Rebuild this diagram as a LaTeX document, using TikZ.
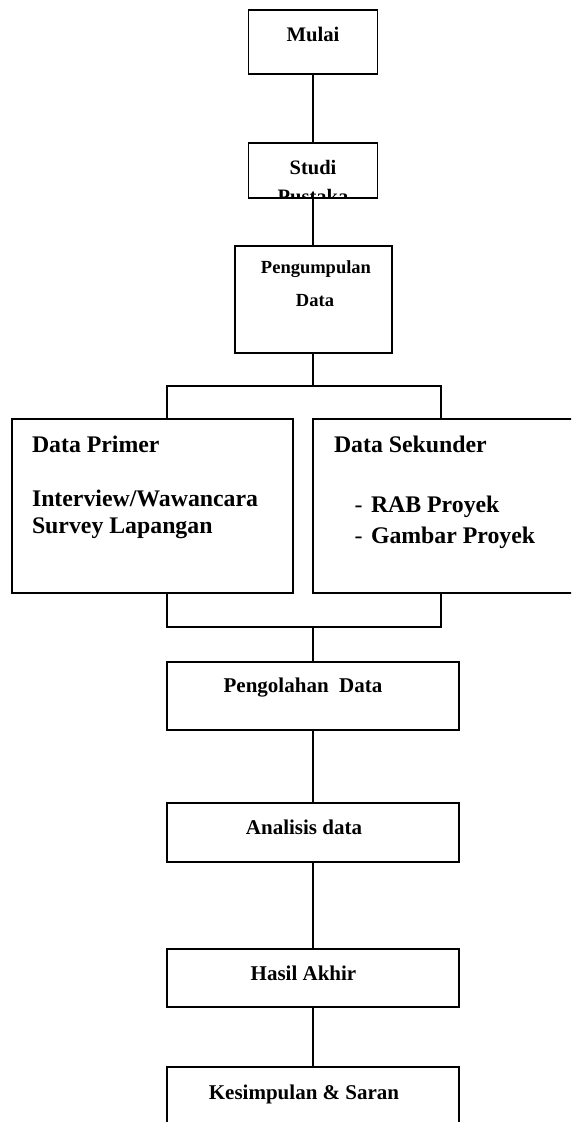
\documentclass[tikz,border=0pt]{standalone}
\usepackage{fontspec}
\setmainfont{Liberation Serif}
\begin{document}
\begin{tikzpicture}[x=1pt,y=-1pt,
  box/.style={draw, line width=1.5pt, inner sep=0pt, outer sep=0pt, anchor=north west},
  conn/.style={line width=1.5pt},
  txt/.style={inner sep=0pt, outer sep=0pt, font=\bfseries\fontsize{21}{25}\selectfont},
  txtbig/.style={inner sep=0pt, outer sep=0pt, font=\bfseries\fontsize{23.8}{28}\selectfont},
  txtsmall/.style={inner sep=0pt, outer sep=0pt, font=\bfseries\fontsize{18.5}{22}\selectfont}]
\clip (0,0) rectangle (571,1122);
\fill[white] (0,0) rectangle (571,1122);
% boxes
\node[box, minimum width=129pt, minimum height=64pt] (mulai) at (248.5,10) {};
\node[box, minimum width=129pt, minimum height=55pt] (studi) at (248.5,143) {};
\node[box, minimum width=157pt, minimum height=107pt] (kumpul) at (235,246) {};
\node[box, minimum width=281pt, minimum height=174pt] (primer) at (12,419) {};
\node[box, minimum width=290pt, minimum height=174pt] (sekunder) at (313,419) {};
\node[box, minimum width=292pt, minimum height=68pt] (olah) at (167,662) {};
\node[box, minimum width=292pt, minimum height=59pt] (analisis) at (167,803) {};
\node[box, minimum width=292pt, minimum height=58pt] (hasil) at (167,949) {};
\node[box, minimum width=292pt, minimum height=80pt] (simpul) at (167,1067) {};
% texts
\node[txt, anchor=base, font=\bfseries\fontsize{20.7}{25}\selectfont] (tmulai) at (313,41) {Mulai};
\node[txt, anchor=base, font=\bfseries\fontsize{20.5}{25}\selectfont] (tstudi) at (313,174) {Studi};
\begin{scope}
  \clip (studi.north west) rectangle (studi.south east);
  \node[txt, anchor=base, font=\bfseries\fontsize{20.5}{25}\selectfont] (tpustaka) at (313,203) {Pustaka};
\end{scope}
\node[txtsmall, anchor=base] (tkumpul) at (316,273) {Pengumpulan};
\node[txtsmall, anchor=base] (tkumpul2) at (315,306.5) {Data};
\node[txtbig, anchor=base west] (tprimer) at (32,452) {Data Primer};
\node[txtbig, anchor=base west] (tinter) at (32,506.5) {Interview/Wawancara};
\node[txtbig, anchor=base west] (tsurvey) at (32,533) {Survey Lapangan};
\node[txtbig, anchor=base west] (tsekunder) at (334,452) {Data Sekunder};
\node[inner sep=0pt, anchor=base west, font=\fontsize{23.8}{28}\selectfont] (dash1) at (354.5,512) {-};
\node[txtbig, anchor=base west] (trab) at (371,512) {RAB Proyek};
\node[inner sep=0pt, anchor=base west, font=\fontsize{23.8}{28}\selectfont] (dash2) at (354.5,543) {-};
\node[txtbig, anchor=base west] (tgambar) at (371,543) {Gambar Proyek};
\node[txt, anchor=base] (tolah) at (303,692.5) {Pengolahan\ \ Data};
\node[txt, anchor=base] (tanalisis) at (304,834) {Analisis data};
\node[txt, anchor=base] (thasil) at (303.5,980.5) {Hasil Akhir};
\node[txt, anchor=base] (tsimpul) at (304,1099.5) {Kesimpulan \& Saran};
% connectors
\coordinate (j1) at (313,386);
\coordinate (jl) at (167,386);
\coordinate (jr) at (441,386);
\coordinate (k1) at (313,627);
\coordinate (kl) at (167,627);
\coordinate (kr) at (441,627);
\draw[conn] (mulai.south) -- (studi.north);
\draw[conn] (studi.south -| mulai.south) -- (kumpul.north -| mulai.south);
\draw[conn] (kumpul.south -| j1) -- (j1);
\draw[conn] (jl |- primer.north) -- (jl) -- (jr) -- (jr |- sekunder.north);
\draw[conn] (kl |- primer.south) -- (kl) -- (kr) -- (kr |- sekunder.south);
\draw[conn] (k1) -- (olah.north -| k1);
\draw[conn] (olah.south -| k1) -- (analisis.north -| k1);
\draw[conn] (analisis.south -| k1) -- (hasil.north -| k1);
\draw[conn] (hasil.south -| k1) -- (simpul.north -| k1);
\end{tikzpicture}
\end{document}
